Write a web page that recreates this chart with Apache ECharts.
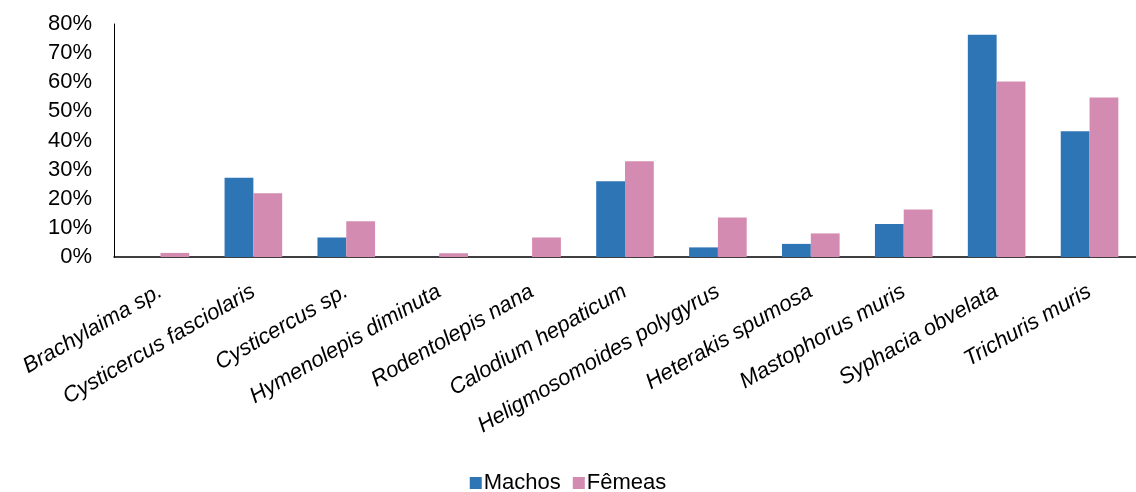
<!DOCTYPE html>
<html>
<head>
<meta charset="utf-8">
<script src="https://cdn.jsdelivr.net/npm/echarts@6/dist/echarts.min.js"></script>
<style>
  html, body { margin: 0; padding: 0; background: #fff; }
  #chart { width: 1136px; height: 492px; }
</style>
</head>
<body>
<div id="chart"></div>
<script>
// Helminth prevalence (%) by host sex
const categories = [
  'Brachylaima sp.', 'Cysticercus fasciolaris', 'Cysticercus sp.',
  'Hymenolepis diminuta', 'Rodentolepis nana', 'Calodium hepaticum',
  'Heligmosomoides polygyrus', 'Heterakis spumosa', 'Mastophorus muris',
  'Syphacia obvelata', 'Trichuris muris'
];
const machos = [0, 27.2, 6.7, 0, 0, 26.0, 3.3, 4.5, 11.3, 76.3, 43.2];
const femeas = [1.4, 21.9, 12.3, 1.3, 6.7, 32.9, 13.6, 8.1, 16.3, 60.3, 54.8];
const yTicks = [0, 10, 20, 30, 40, 50, 60, 70, 80];

const font = '"Liberation Sans", Arial, sans-serif';
const chart = echarts.init(document.getElementById('chart'));
chart.setOption({
  animation: false,
  textStyle: { fontFamily: font },
  grid: { left: 114, right: 0, top: 24, bottom: 235, containLabel: false },
  legend: {
    data: ['Machos', 'Fêmeas'],
    top: 467,
    left: 'center',
    itemWidth: 12,
    itemHeight: 12,
    itemGap: 12,
    icon: 'rect',
    textStyle: { fontSize: 22, color: '#000', fontFamily: font, padding: [0, 0, 0, -3] }
  },
  xAxis: {
    type: 'category',
    data: categories,
    axisLine: { lineStyle: { color: '#000', width: 1.5 } },
    axisTick: { show: false },
    axisLabel: {
      interval: 0,
      rotate: 30,
      margin: 33,
      fontSize: 22,
      fontStyle: 'italic',
      color: '#000',
      fontFamily: font
    }
  },
  yAxis: {
    type: 'value',
    min: yTicks[0],
    max: yTicks[yTicks.length - 1],
    interval: 10,
    splitLine: { show: false },
    axisLine: { show: true, lineStyle: { color: '#000', width: 1 } },
    axisTick: { show: false },
    axisLabel: {
      formatter: '{value}%',
      fontSize: 22,
      color: '#000',
      margin: 22,
      fontFamily: font
    }
  },
  series: [
    {
      name: 'Machos',
      type: 'bar',
      data: machos,
      barGap: '0%',
      barCategoryGap: '38%',
      itemStyle: { color: '#2E75B6' }
    },
    {
      name: 'Fêmeas',
      type: 'bar',
      data: femeas,
      itemStyle: { color: '#D48BB1' }
    }
  ]
});
</script>
</body>
</html>
